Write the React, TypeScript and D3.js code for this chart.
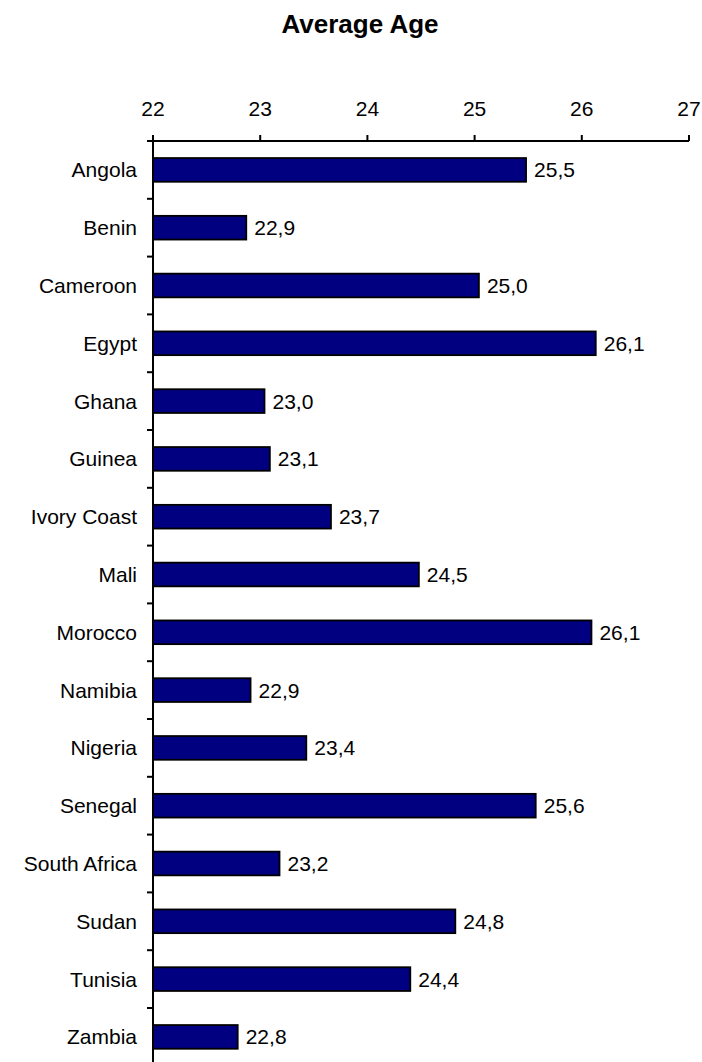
import React from "react";
import * as d3 from "d3";

const title = "Average Age";
const countries = [
  "Angola", "Benin", "Cameroon", "Egypt", "Ghana", "Guinea", "Ivory Coast", "Mali",
  "Morocco", "Namibia", "Nigeria", "Senegal", "South Africa", "Sudan", "Tunisia", "Zambia",
];
const ages = [
  25.48, 22.87, 25.04, 26.13, 23.04, 23.09, 23.66, 24.48,
  26.09, 22.91, 23.43, 25.57, 23.18, 24.82, 24.4, 22.79,
];
const xTicks = [22, 23, 24, 25, 26, 27];

const W = 702;
const H = 1062;
const x0 = 153;
const x1 = 689;
const yTop = 141;
const step = 57.8;

export default function App() {
  const x = d3.scaleLinear().domain([22, 27]).range([x0, x1]);
  const y = d3
    .scaleBand<string>()
    .domain(countries)
    .range([yTop, yTop + step * countries.length])
    .paddingInner(0.59)
    .paddingOuter(0.295);
  const fmt = (v: number) => d3.format(".1f")(v).replace(".", ",");
  const font = "'Liberation Sans', Arial, sans-serif";
  const boundaries = d3.range(countries.length + 1).map((i) => yTop + i * step);

  return (
    <svg
      width={W}
      height={H}
      style={{ position: "absolute", left: 0, top: 0, background: "#fff" }}
      fontFamily={font}
    >
      <rect x={0} y={0} width={W} height={H} fill="#fff" />
      <text x={360} y={33} textAnchor="middle" fontSize={26} fontWeight="bold" fill="#000">
        {title}
      </text>

      {/* bars */}
      {countries.map((c, i) => (
        <g key={c}>
          <rect
            x={x(22)}
            y={y(c)!}
            width={x(ages[i]) - x(22)}
            height={y.bandwidth()}
            fill="#000080"
            stroke="#000"
            strokeWidth={1.8}
          />
          <text
            x={x(ages[i]) + 8}
            y={y(c)! + y.bandwidth() / 2}
            dy="0.36em"
            fontSize={21}
            fill="#000"
          >
            {fmt(ages[i])}
          </text>
          <text
            x={x0 - 16}
            y={y(c)! + y.bandwidth() / 2}
            dy="0.36em"
            textAnchor="end"
            fontSize={21}
            fill="#000"
          >
            {c}
          </text>
        </g>
      ))}

      {/* x axis (top) */}
      <line x1={x0 - 6} x2={x1} y1={yTop} y2={yTop} stroke="#000" strokeWidth={2} />
      {xTicks.map((t) => (
        <g key={t}>
          <line x1={x(t)} x2={x(t)} y1={yTop} y2={yTop - 6} stroke="#000" strokeWidth={2} />
          <text x={x(t)} y={116} textAnchor="middle" fontSize={21} fill="#000">
            {t}
          </text>
        </g>
      ))}

      {/* y axis */}
      <line x1={x0} x2={x0} y1={yTop - 6} y2={yTop + step * countries.length} stroke="#000" strokeWidth={2} />
      {boundaries.map((b, i) => (
        <line key={i} x1={x0 - 6} x2={x0} y1={b} y2={b} stroke="#000" strokeWidth={2} />
      ))}
    </svg>
  );
}
